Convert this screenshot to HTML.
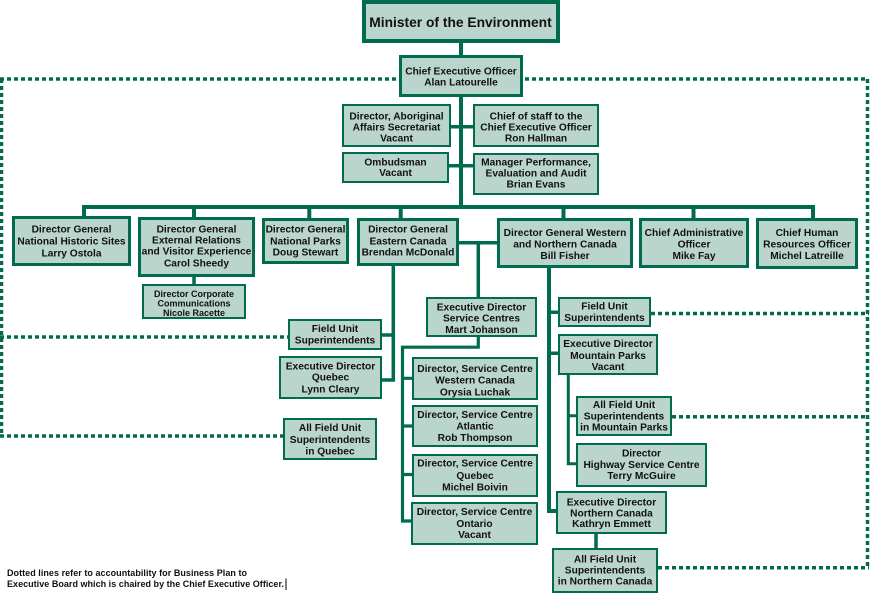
<!DOCTYPE html>
<html><head><meta charset="utf-8"><style>
html,body{margin:0;padding:0;background:#fff;}
svg{display:block;}
text{font-family:"Liberation Sans",Arial,sans-serif;font-weight:bold;fill:#111;}
.t{font-size:10.2px;text-anchor:middle;}
.s{font-size:9px;text-anchor:middle;}
.b{fill:#bad5cc;stroke:#006b4f;}
.c{stroke:#006b4f;fill:none;}
.d{stroke:#006b4f;fill:none;stroke-width:3.5;stroke-dasharray:4 3;}
</style></head><body>
<svg width="870" height="593" viewBox="0 0 870 593" xmlns="http://www.w3.org/2000/svg">
<!-- dotted lines -->
<path class="d" d="M0 79 H867.5"/>
<path class="d" d="M1.5 79 V437.5"/>
<path class="d" d="M0 337 H288"/>
<path class="d" d="M0 436 H283"/>
<path class="d" d="M867.5 79 V569"/>
<path class="d" d="M651 313.5 H869"/>
<path class="d" d="M672 416.7 H869"/>
<path class="d" d="M658 567.7 H869"/>

<!-- connectors -->
<path class="c" stroke-width="4" d="M461 43 V55"/>
<path class="c" stroke-width="4" d="M461 97 V209"/>
<path class="c" stroke-width="3.5" d="M451 126.7 H473"/>
<path class="c" stroke-width="3.5" d="M449 165.8 H473"/>
<path class="c" stroke-width="4" d="M82 207 H815"/>
<path class="c" stroke-width="4" d="M84 207 V217 M194 207 V218 M309.3 207 V219 M400.7 207 V219 M563.5 207 V219 M693.5 207 V219 M813 207 V219"/>
<path class="c" stroke-width="3.5" d="M194 276 V285"/>
<path class="c" stroke-width="3.5" d="M393.3 265 V380 H381"/>
<path class="c" stroke-width="3.5" d="M393.3 335 H381"/>
<path class="c" stroke-width="3.5" d="M458 242.7 H498 M478.3 242.7 V298"/>
<path class="c" stroke-width="3.2" d="M478.3 336 V347.2 H402.5 V521 H413"/>
<path class="c" stroke-width="3.2" d="M402.5 378.3 H413 M402.5 426 H413 M402.5 474.5 H413"/>
<path class="c" stroke-width="4" d="M549 267 V511 H557"/>
<path class="c" stroke-width="3.5" d="M549 312.3 H559 M549 353.3 H559"/>
<path class="c" stroke-width="3" d="M568.3 374 V463.7 H577 M568.3 415.7 H577"/>
<path class="c" stroke-width="3.5" d="M596 533 V549"/>

<!-- Minister -->
<rect class="b" stroke-width="4" x="364" y="2" width="194" height="39"/>
<text x="460.5" y="26.8" style="font-size:13.8px;text-anchor:middle;">Minister of the Environment</text>

<!-- CEO -->
<rect class="b" stroke-width="3" x="400.5" y="56.5" width="121" height="39"/>
<text class="t" x="461" y="74.4">Chief Executive Officer</text>
<text class="t" x="461" y="85.4">Alan Latourelle</text>

<!-- staff -->
<rect class="b" stroke-width="2" x="343" y="105" width="107" height="41"/>
<text class="t" x="396.5" y="119.3">Director, Aboriginal</text>
<text class="t" x="396.5" y="130.3">Affairs Secretariat</text>
<text class="t" x="396.5" y="141.3">Vacant</text>

<rect class="b" stroke-width="2" x="474" y="105" width="124" height="41"/>
<text class="t" x="536" y="119.3">Chief of staff to the</text>
<text class="t" x="536" y="130.3">Chief Executive Officer</text>
<text class="t" x="536" y="141.3">Ron Hallman</text>

<rect class="b" stroke-width="2" x="343" y="153" width="105" height="29"/>
<text class="t" x="395.5" y="165.3">Ombudsman</text>
<text class="t" x="395.5" y="175.9">Vacant</text>

<rect class="b" stroke-width="2" x="474" y="154" width="124" height="40"/>
<text class="t" x="536" y="165.3">Manager Performance,</text>
<text class="t" x="536" y="176.3">Evaluation and Audit</text>
<text class="t" x="536" y="187.6">Brian Evans</text>

<!-- top-level row -->
<rect class="b" stroke-width="3" x="13.5" y="217.5" width="116" height="47"/>
<text class="t" x="71.5" y="232.6">Director General</text>
<text class="t" x="71.5" y="244.6">National Historic Sites</text>
<text class="t" x="71.5" y="256.6">Larry Ostola</text>

<rect class="b" stroke-width="3" x="139.5" y="218.5" width="114" height="57"/>
<text class="t" x="196.5" y="232.3">Director General</text>
<text class="t" x="196.5" y="243.3">External Relations</text>
<text class="t" x="196.5" y="254.6">and Visitor Experience</text>
<text class="t" x="196.5" y="266.3">Carol Sheedy</text>

<rect class="b" stroke-width="3" x="263.5" y="219.5" width="84" height="43"/>
<text class="t" x="305.5" y="232.6">Director General</text>
<text class="t" x="305.5" y="244.3">National Parks</text>
<text class="t" x="305.5" y="255.3">Doug Stewart</text>

<rect class="b" stroke-width="3" x="358.5" y="219.5" width="99" height="45"/>
<text class="t" x="408" y="232.6">Director General</text>
<text class="t" x="408" y="244.3">Eastern Canada</text>
<text class="t" x="408" y="255.3">Brendan McDonald</text>

<rect class="b" stroke-width="3" x="498.5" y="219.5" width="133" height="47"/>
<text class="t" x="565" y="235.9">Director General Western</text>
<text class="t" x="565" y="247.3">and Northern Canada</text>
<text class="t" x="565" y="258.9">Bill Fisher</text>

<rect class="b" stroke-width="3" x="640.5" y="219.5" width="107" height="47"/>
<text class="t" x="694" y="235.9">Chief Administrative</text>
<text class="t" x="694" y="247.3">Officer</text>
<text class="t" x="694" y="258.9">Mike Fay</text>

<rect class="b" stroke-width="3" x="757.5" y="219.5" width="99" height="48"/>
<text class="t" x="807" y="235.9">Chief Human</text>
<text class="t" x="807" y="247.3">Resources Officer</text>
<text class="t" x="807" y="258.9">Michel Latreille</text>

<!-- Corp comms -->
<rect class="b" stroke-width="2" x="143" y="285" width="102" height="33"/>
<text class="s" x="194" y="296.9">Director Corporate</text>
<text class="s" x="194" y="306.5">Communications</text>
<text class="s" x="194" y="315.9">Nicole Racette</text>

<!-- Eastern children -->
<rect class="b" stroke-width="2" x="289" y="320" width="92" height="29"/>
<text class="t" x="335" y="331.9">Field Unit</text>
<text class="t" x="335" y="343.6">Superintendents</text>

<rect class="b" stroke-width="2" x="280" y="357" width="101" height="41"/>
<text class="t" x="330.5" y="369.3">Executive Director</text>
<text class="t" x="330.5" y="380.3">Quebec</text>
<text class="t" x="330.5" y="392.3">Lynn Cleary</text>

<rect class="b" stroke-width="2" x="284" y="419" width="92" height="40"/>
<text class="t" x="330" y="430.9">All Field Unit</text>
<text class="t" x="330" y="442.9">Superintendents</text>
<text class="t" x="330" y="454.3">in Quebec</text>

<rect class="b" stroke-width="2" x="427" y="298" width="109" height="38"/>
<text class="t" x="481.5" y="310.3">Executive Director</text>
<text class="t" x="481.5" y="321.3">Service Centres</text>
<text class="t" x="481.5" y="332.9">Mart Johanson</text>

<rect class="b" stroke-width="2" x="413" y="358" width="124" height="41"/>
<text class="t" x="475" y="371.9">Director, Service Centre</text>
<text class="t" x="475" y="383.6">Western Canada</text>
<text class="t" x="475" y="395.3">Orysia Luchak</text>

<rect class="b" stroke-width="2" x="413" y="406" width="124" height="40"/>
<text class="t" x="475" y="417.9">Director, Service Centre</text>
<text class="t" x="475" y="429.6">Atlantic</text>
<text class="t" x="475" y="440.9">Rob Thompson</text>

<rect class="b" stroke-width="2" x="413" y="455" width="124" height="41"/>
<text class="t" x="475" y="466.3">Director, Service Centre</text>
<text class="t" x="475" y="478.9">Quebec</text>
<text class="t" x="475" y="490.3">Michel Boivin</text>

<rect class="b" stroke-width="2" x="412" y="503" width="125" height="41"/>
<text class="t" x="474.5" y="514.9">Director, Service Centre</text>
<text class="t" x="474.5" y="526.9">Ontario</text>
<text class="t" x="474.5" y="537.9">Vacant</text>

<!-- Western children -->
<rect class="b" stroke-width="2" x="559" y="298" width="91" height="28"/>
<text class="t" x="604.5" y="309.3">Field Unit</text>
<text class="t" x="604.5" y="320.9">Superintendents</text>

<rect class="b" stroke-width="2" x="559" y="335" width="98" height="39"/>
<text class="t" x="608" y="346.9">Executive Director</text>
<text class="t" x="608" y="358.9">Mountain Parks</text>
<text class="t" x="608" y="369.9">Vacant</text>

<rect class="b" stroke-width="2" x="577" y="397" width="94" height="38"/>
<text class="t" x="624" y="407.9">All Field Unit</text>
<text class="t" x="624" y="419.3">Superintendents</text>
<text class="t" x="624" y="430.6">in Mountain Parks</text>

<rect class="b" stroke-width="2" x="577" y="444" width="129" height="42"/>
<text class="t" x="641.5" y="456.3">Director</text>
<text class="t" x="641.5" y="467.9">Highway Service Centre</text>
<text class="t" x="641.5" y="478.9">Terry McGuire</text>

<rect class="b" stroke-width="2" x="557" y="492" width="109" height="41"/>
<text class="t" x="611.5" y="505.3">Executive Director</text>
<text class="t" x="611.5" y="516.3">Northern Canada</text>
<text class="t" x="611.5" y="526.9">Kathryn Emmett</text>

<rect class="b" stroke-width="2" x="553" y="549" width="104" height="43"/>
<text class="t" x="605" y="562.6">All Field Unit</text>
<text class="t" x="605" y="573.6">Superintendents</text>
<text class="t" x="605" y="584.3">in Northern Canada</text>

<!-- footnote -->
<text x="7" y="575.9" style="font-size:9px;" textLength="240" lengthAdjust="spacing">Dotted lines refer to accountability for Business Plan to</text>
<text x="7" y="587.2" style="font-size:9px;" textLength="277" lengthAdjust="spacing">Executive Board which is chaired by the Chief Executive Officer.</text>
<line x1="286" y1="578.5" x2="286" y2="590" stroke="#000" stroke-width="1"/>
</svg>
</body></html>
